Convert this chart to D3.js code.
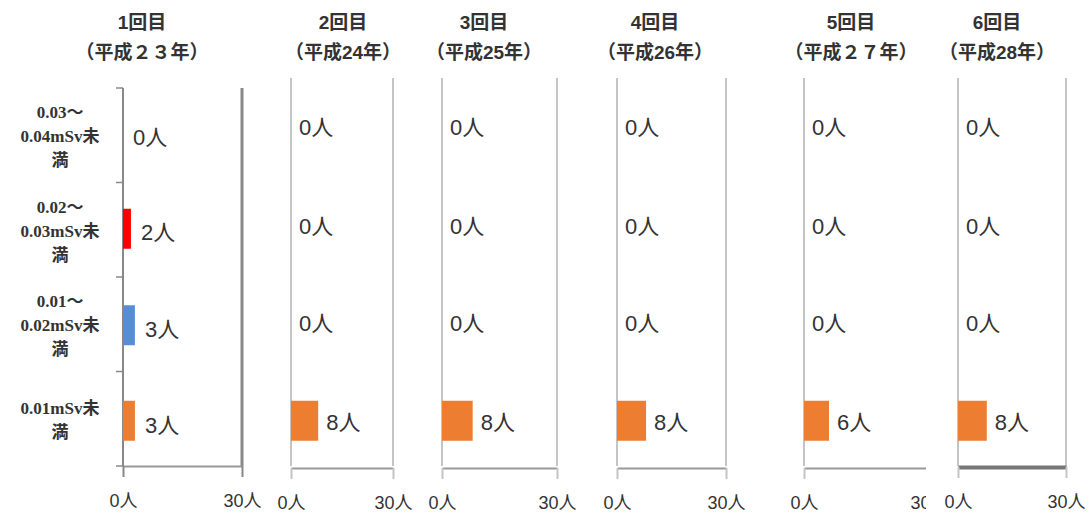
<!DOCTYPE html>
<html><head><meta charset="utf-8">
<script src="https://cdn.jsdelivr.net/npm/d3@7"></script>
<style>
body{margin:0;background:#fff;}
svg{display:block;}
</style></head>
<body><svg id="c" width="1089" height="514"></svg>
<script>
// ---- data ----
const categories = [["0.03～","0.04mSv未","満"],["0.02～","0.03mSv未","満"],["0.01～","0.02mSv未","満"],["0.01mSv未","満"]];
const categoryColors = [null,"#ff0000","#558ed5","#ed7d31"];
const roundTitles = ["1回目","2回目","3回目","4回目","5回目","6回目"];
const eraTitles = ["（平成２３年）","（平成24年）","（平成25年）","（平成26年）","（平成２７年）","（平成28年）"];
const round1 = [0,2,3,3];
const round2 = [0,0,0,8];
const round3 = [0,0,0,8];
const round4 = [0,0,0,8];
const round5 = [0,0,0,6];
const round6 = [0,0,0,8];
const rounds = [round1,round2,round3,round4,round5,round6];
const axisTicks = [0,30];
const unit = "人";

// ---- layout ----
const panels = [
  {x0:123,x1:242,top:88,titleX:142},
  {x0:291,x1:393,top:78,titleX:343},
  {x0:442,x1:557,top:78,titleX:484},
  {x0:617,x1:726,top:78,titleX:655},
  {x0:804,x1:929,top:78,titleX:851,noRight:true,clip:926},
  {x0:958,x1:1066,top:78,titleX:997}
];
const labelOffFirst = [2,2,5,6];
const labelOffOther = [-8,-4,-1,3];
const barOff = [0,-1,1,2];
const rowTop = 88, rowBottom = 466;
const svg = d3.select("#c");
const sans = "'Liberation Sans','Noto Sans CJK JP',sans-serif";
const serif = "'Liberation Serif','Noto Sans CJK JP',serif";

const y = d3.scaleBand().domain(d3.range(categories.length)).range([rowTop,rowBottom]).paddingInner(0);
const barH = 40;

// category labels
categories.forEach((lines,i)=>{
  const cy = y(i)+y.bandwidth()/2 + 1;
  const lh = 24;
  const t = svg.append("text").attr("text-anchor","middle").attr("font-family",serif)
    .attr("font-size",17).attr("font-weight","bold").attr("fill","#333");
  lines.forEach((l,k)=>{
    t.append("tspan").attr("x",60).attr("y",cy+(k-(lines.length-1)/2)*lh+6).text(l);
  });
});

panels.forEach((p,pi)=>{
  const g = svg.append("g");
  const x = d3.scaleLinear().domain([0,30]).range([p.x0,p.x1]);
  const vals = rounds[pi];
  const isFirst = pi===0;
  // titles
  g.append("text").attr("x",p.titleX).attr("y",29).attr("text-anchor","middle")
    .attr("font-family",sans).attr("font-weight","bold").attr("font-size",19).attr("fill","#333").text(roundTitles[pi]);
  g.append("text").attr("x",p.titleX).attr("y",59).attr("text-anchor","middle")
    .attr("font-family",sans).attr("font-weight","bold").attr("font-size",19).attr("fill","#333").text(eraTitles[pi]);
  // frame lines
  const vcol = isFirst ? "#888" : "#c4c4c4";
  g.append("line").attr("x1",x(0)).attr("x2",x(0)).attr("y1",p.top).attr("y2",rowBottom)
    .attr("stroke",vcol).attr("stroke-width",2);
  if(!p.noRight){
    g.append("line").attr("x1",x(30)).attr("x2",x(30)).attr("y1",p.top).attr("y2",rowBottom)
      .attr("stroke",isFirst?"#888":"#c4c4c4").attr("stroke-width",isFirst?3:2);
  }
  if(isFirst){
    d3.range(categories.length+1).forEach(k=>{
      const yy = rowTop + k*y.bandwidth();
      g.append("line").attr("x1",x(0)-7).attr("x2",x(0)).attr("y1",yy).attr("y2",yy).attr("stroke","#888").attr("stroke-width",1.5);
    });
  }
  // bottom axis
  const bottomY = isFirst?466:(pi===5?467:468);
  const ax = g.append("g").attr("transform",`translate(0,${bottomY})`)
    .call(d3.axisBottom(x).tickValues(axisTicks).tickSizeInner(11).tickSizeOuter(0).tickPadding(17).tickFormat(d=>d+unit));
  ax.select(".domain").attr("stroke",pi===5?"#777":"#999").attr("stroke-width",pi===5?4:2);
  ax.selectAll(".tick line").attr("stroke",isFirst?"#888":"#c4c4c4").attr("stroke-width",2);
  ax.selectAll(".tick text").attr("font-family",sans).attr("font-size",18).attr("fill","#333");
  if(p.clip){
    const id="clip"+pi;
    svg.append("clipPath").attr("id",id).append("rect").attr("x",0).attr("y",-600).attr("width",p.clip).attr("height",1200);
    ax.attr("clip-path",`url(#${id})`);
  }
  // bars and labels
  vals.forEach((v,i)=>{
    const cy = y(i)+y.bandwidth()/2;
    if(v>0){
      g.append("rect").attr("x",x(0)).attr("y",cy+barOff[i]-barH/2).attr("width",x(v)-x(0)).attr("height",barH)
        .attr("fill",categoryColors[i]);
    }
    const off = isFirst?labelOffFirst[i]:labelOffOther[i];
    g.append("text").attr("x",x(v)+(isFirst?10:8)).attr("y",cy+off+8)
      .attr("font-family",sans).attr("font-size",22).attr("fill","#333").text(v+unit);
  });
});
</script></body></html>
